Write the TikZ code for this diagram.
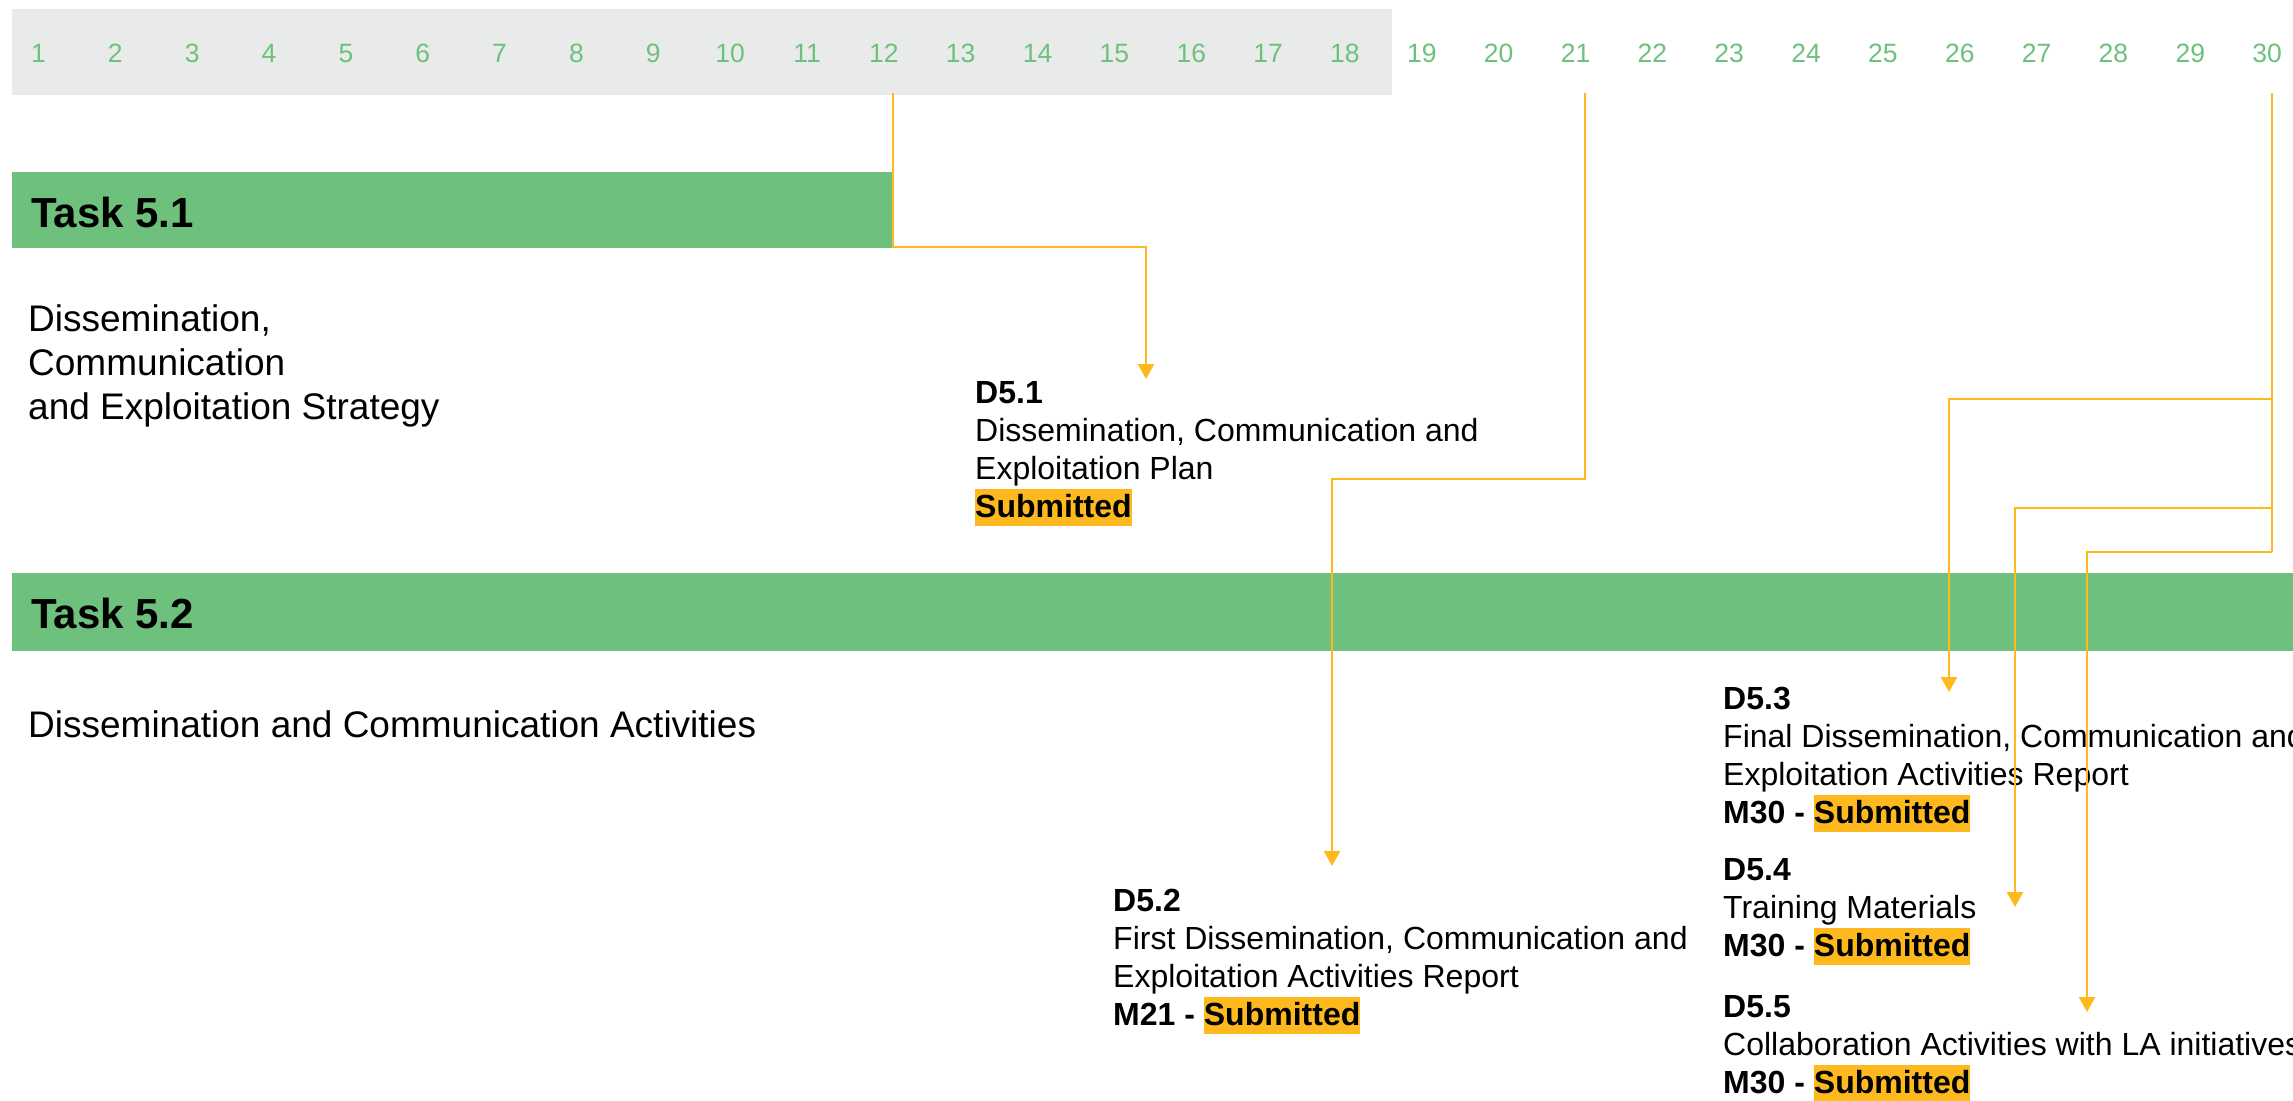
\documentclass[tikz,border=0pt]{standalone}
\usepackage{fontspec}
\setmainfont{Liberation Sans}
\usetikzlibrary{arrows.meta}
\definecolor{barg}{RGB}{109,193,125}
\definecolor{numg}{RGB}{109,193,125}
\definecolor{greyb}{RGB}{233,235,234}
\definecolor{orng}{RGB}{253,185,30}
\newcommand{\hlbox}[1]{{\setlength{\fboxsep}{0pt}\colorbox{orng}{\rule[-0.28em]{0pt}{1.155em}#1}}}
\begin{document}
\begin{tikzpicture}[x=1pt,y=-1pt,
  num/.style={text=numg, font=\fontsize{26.5}{30}\selectfont, inner sep=0pt, anchor=base},
  tasklbl/.style={font=\bfseries\fontsize{42}{50}\selectfont, inner sep=0pt, anchor=base west},
  desc/.style={font=\fontsize{37}{44}\selectfont, inner sep=0pt, anchor=base west},
  dtxt/.style={font=\fontsize{32}{38}\selectfont, inner sep=0pt, anchor=base west},
  dhead/.style={font=\bfseries\fontsize{32}{38}\selectfont, inner sep=0pt, anchor=base west},
  link/.style={draw=orng, line width=2.6pt},
  arr/.style={link, -{Triangle[width=16pt,length=15pt]}},
]
\useasboundingbox (0,0) rectangle (2293,1100);
\fill[white] (0,0) rectangle (2293,1100);

% timeline band
\fill[greyb] (12,9) rectangle (1392,95);
\foreach \k in {1,...,30}
  \node[num] (n\k) at ({38.5+(\k-1)*76.85},62) {\k};

% task bars
\fill[barg] (12,172) rectangle (892,248);
\fill[barg] (12,573) rectangle (2293,651);
\node[tasklbl] (tl1) at (31,227) {Task 5.1};
\node[tasklbl] (tl2) at (31,628) {Task 5.2};

% task descriptions
\node[desc] (d1a) at (28,331) {Dissemination,};
\node[desc] (d1b) at (28,375) {Communication};
\node[desc] (d1c) at (28,419) {and Exploitation Strategy};
\node[desc] (d2a) at (28,737) {Dissemination and Communication Activities};

% D5.1
\node[dhead] (D1h) at (975,403) {D5.1};
\node[dtxt]  (D1a) at (975,441) {Dissemination, Communication and};
\node[dtxt]  (D1b) at (975,479) {Exploitation Plan};
\node[dhead] (D1s) at (975,517) {\hlbox{Submitted}};

% D5.2
\node[dhead] (D2h) at (1113,911) {D5.2};
\node[dtxt]  (D2a) at (1113,949) {First Dissemination, Communication and};
\node[dtxt]  (D2b) at (1113,987) {Exploitation Activities Report};
\node[dhead] (D2s) at (1113,1025) {M21 - \hlbox{Submitted}};

% D5.3
\node[dhead] (D3h) at (1723,709) {D5.3};
\node[dtxt]  (D3a) at (1723,747) {Final Dissemination, Communication and};
\node[dtxt]  (D3b) at (1723,785) {Exploitation Activities Report};
\node[dhead] (D3s) at (1723,823) {M30 - \hlbox{Submitted}};

% D5.4
\node[dhead] (D4h) at (1723,880) {D5.4};
\node[dtxt]  (D4a) at (1723,918) {Training Materials};
\node[dhead] (D4s) at (1723,956) {M30 - \hlbox{Submitted}};

% D5.5
\node[dhead] (D5h) at (1723,1017) {D5.5};
\node[dtxt]  (D5a) at (1723,1055) {Collaboration Activities with LA initiatives};
\node[dhead] (D5s) at (1723,1093) {M30 - \hlbox{Submitted}};

% connector points
\coordinate (m12) at (893,93);
\coordinate (m21) at (1585,93);
\coordinate (m30) at (2272,93);
\coordinate (k1) at (1146,247);
\coordinate (t1) at (1146,379);
\coordinate (k2) at (1332,479);
\coordinate (t2) at (1332,866);
\coordinate (j3) at (2272,399);
\coordinate (t3) at (1949,692);
\coordinate (j4) at (2272,508);
\coordinate (t4) at (2015,907);
\coordinate (j5) at (2272,552);
\coordinate (t5) at (2087,1012);

\draw[arr] (m12) |- (k1) -- (t1);
\draw[arr] (m21) |- (k2) -- (t2);
\draw[link] (m30) -- (j5);
\draw[arr] (j3) -| (t3);
\draw[arr] (j4) -| (t4);
\draw[arr] (j5) -| (t5);
\end{tikzpicture}
\end{document}
